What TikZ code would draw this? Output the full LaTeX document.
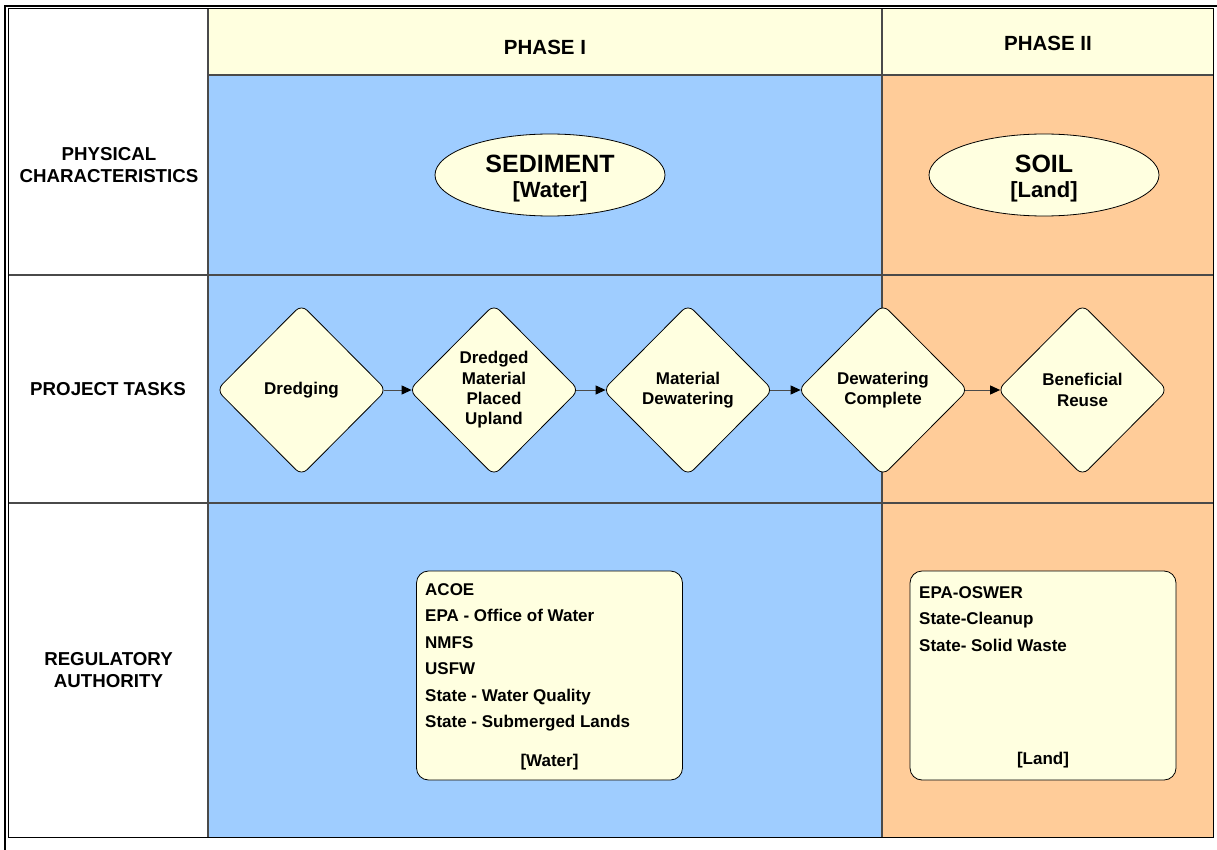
\documentclass[tikz,border=0pt]{standalone}
\usepackage{fontspec}
\setmainfont{Liberation Sans}
\usetikzlibrary{shapes.geometric,arrows.meta}
\definecolor{phblue}{HTML}{9FCDFF}
\definecolor{phorange}{HTML}{FFCC99}
\definecolor{hdr}{HTML}{FFFFDF}
\definecolor{cream}{HTML}{FFFFE0}
\definecolor{gridc}{HTML}{4A4A4A}
\begin{document}
\begin{tikzpicture}[x=1pt,y=-1pt,
  gridline/.style={draw=gridc,line width=1.5pt},
  rowlabel/.style={font=\bfseries\fontsize{18.7}{22.5}\selectfont,align=center,inner sep=0pt},
  phase/.style={font=\bfseries\fontsize{20.5}{24}\selectfont,inner sep=0pt,text height=14.7pt,text depth=0pt},
  stage/.style={ellipse,draw=black,line width=0.8pt,fill=cream,minimum width=230pt,minimum height=82pt,inner sep=0pt},
  stagetitle/.style={font=\bfseries\fontsize{25}{28}\selectfont,inner sep=0pt,text height=17.9pt,text depth=0pt},
  stagesub/.style={font=\bfseries\fontsize{22}{25}\selectfont,inner sep=0pt,text height=15.75pt,text depth=0pt},
  task/.style={diamond,draw=black,line width=0.8pt,fill=cream,rounded corners=8pt,minimum width=170pt,minimum height=171pt,inner sep=0pt,align=center,font=\bfseries\fontsize{17}{20.3}\selectfont},
  flow/.style={draw=gridc,line width=1pt,shorten <=-3pt,shorten >=-3pt,-{Triangle[length=10pt,width=9pt,color=black]}},
  authbox/.style={draw=black,line width=0.8pt,fill=cream,rounded corners=12pt,inner sep=0pt,minimum width=266pt,minimum height=209pt},
  item/.style={anchor=west,inner sep=0pt,font=\bfseries\fontsize{17}{20}\selectfont,text height=12.2pt,text depth=0pt},
  tag/.style={inner sep=0pt,font=\bfseries\fontsize{17}{20}\selectfont,text height=12.2pt,text depth=0pt},
]
\useasboundingbox (0,0) rectangle (1217,850);
\fill[white] (0,0) rectangle (1217,850);

% cell fills
\fill[hdr] (208,9) rectangle (1213,75);
\fill[phblue] (208,75) rectangle (882,837);
\fill[phorange] (882,75) rectangle (1213,837);

% grid lines
\draw[gridline] (208,75) -- (1213,75);
\draw[gridline] (8,275) -- (1213,275);
\draw[gridline] (8,503) -- (1213,503);
\draw[gridline] (208,9) -- (208,837);
\draw[gridline] (882,9) -- (882,837);
\draw[draw=black,line width=1pt] (8,9) rectangle (1213,837);

% outer page frame
\draw[line width=2.6pt] (5,850) -- (5,6) -- (1217,6);

% headers
\node[phase] (ph1) at (545,47) {PHASE I};
\node[phase] (ph2) at (1048,43) {PHASE II};

% row labels
\node[rowlabel] (lphys) at (109,165) {PHYSICAL\\CHARACTERISTICS};
\node[rowlabel] (ltask) at (108,389) {PROJECT TASKS};
\node[rowlabel] (lreg) at (108.5,670) {REGULATORY\\AUTHORITY};

% physical characteristics
\node[stage] (sed) at (550,175) {};
\node[stagetitle] (sedt) at (550,163.5) {SEDIMENT};
\node[stagesub] (sedw) at (550,189.5) {[Water]};
\node[stage] (soil) at (1044,175) {};
\node[stagetitle] (soilt) at (1044,163.5) {SOIL};
\node[stagesub] (soill) at (1044,189.5) {[Land]};

% project tasks
\node[task] (d1) at (301.5,390) {Dredging};
\node[task] (d2) at (494,390) {Dredged\\Material\\Placed\\Upland};
\node[task] (d3) at (688,390) {Material\\Dewatering};
\node[task] (d4) at (883,390) {Dewatering\\Complete};
\node[task] (d5) at (1082.5,390) {Beneficial\\Reuse};
\draw[flow] (d1.east) -- (d2.west);
\draw[flow] (d2.east) -- (d3.west);
\draw[flow] (d3.east) -- (d4.west);
\draw[flow] (d4.east) -- (d5.west);

% regulatory authority
\node[authbox] (wbox) at (549.5,675.5) {};
\node[item] (w1) at (425,589) {ACOE};
\node[item] (w2) at (425,615.5) {EPA - Office of Water};
\node[item] (w3) at (425,642) {NMFS};
\node[item] (w4) at (425,668.5) {USFW};
\node[item] (w5) at (425,695) {State - Water Quality};
\node[item] (w6) at (425,721.5) {State - Submerged Lands};
\node[tag] (wt) at (549.5,760.5) {[Water]};

\node[authbox] (lbox) at (1043,675.5) {};
\node[item] (l1) at (919,592) {EPA-OSWER};
\node[item] (l2) at (919,618.5) {State-Cleanup};
\node[item] (l3) at (919,645) {State- Solid Waste};
\node[tag] (lt) at (1043,758) {[Land]};
\end{tikzpicture}
\end{document}
